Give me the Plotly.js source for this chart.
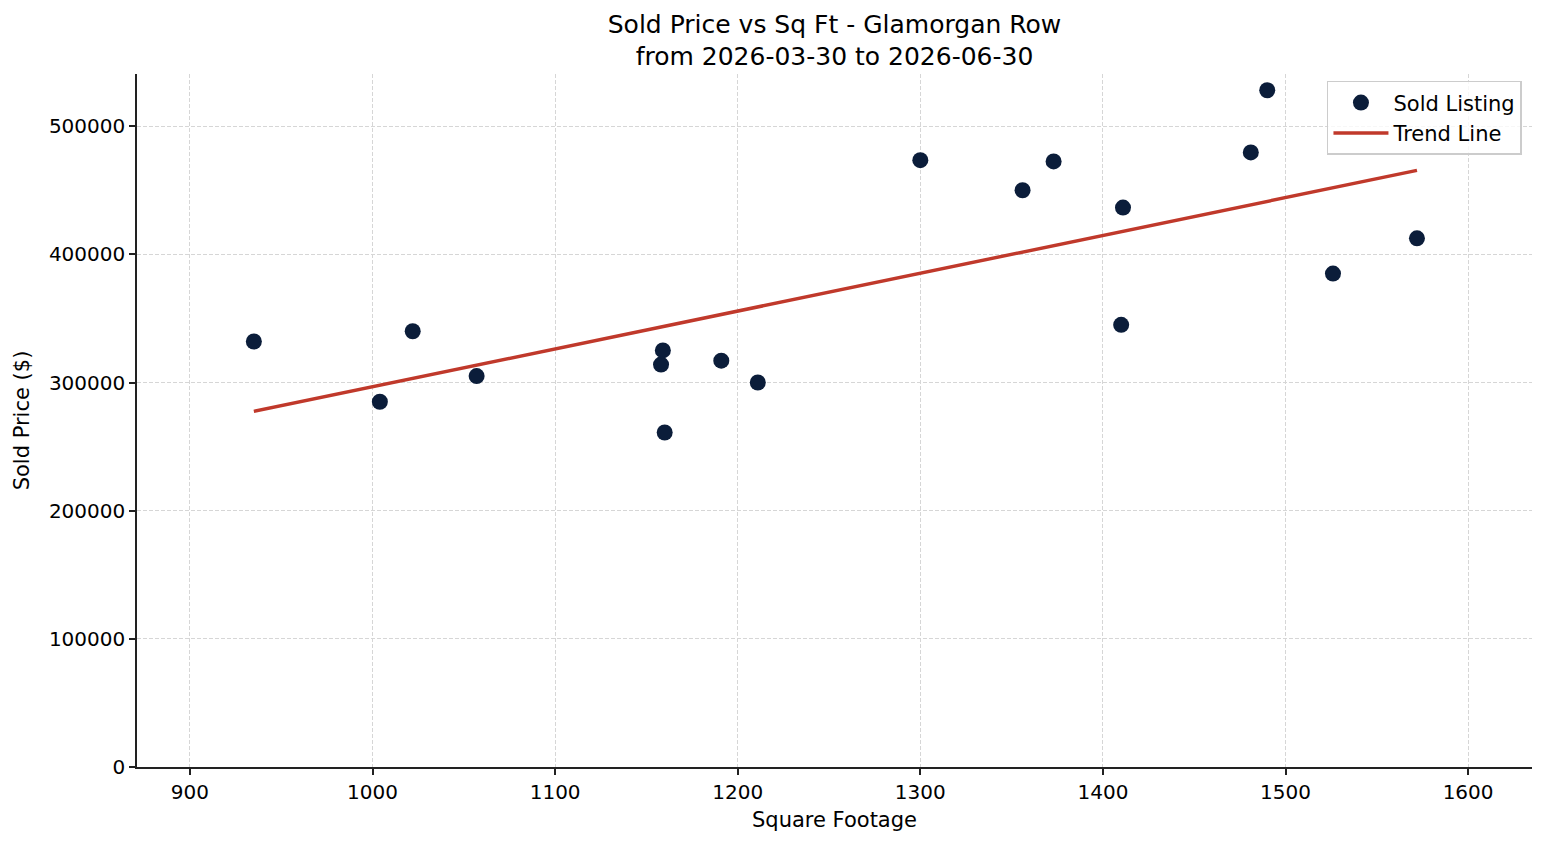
<!DOCTYPE html>
<html>
<head>
<meta charset="utf-8">
<script src="https://cdn.plot.ly/plotly-3.0.1.min.js"></script>
<style>html,body{margin:0;padding:0;background:#fff;}#chart{width:1547px;height:845px;}</style>
</head>
<body>
<div id="chart"></div>
<script>
const sqft = [935, 1004, 1022, 1057, 1158, 1159, 1160, 1191, 1211, 1300, 1356, 1373, 1411, 1410, 1481, 1490, 1526, 1572];
const soldPrice = [332000, 285000, 340000, 305000, 314000, 325000, 261000, 317000, 300000, 473500, 450000, 472500, 436500, 345000, 479500, 528000, 385000, 412500];
const trendX = [935, 1572];
const trendY = [277500, 465500];
const xTicks = [900, 1000, 1100, 1200, 1300, 1400, 1500, 1600];
const yTicks = [0, 100000, 200000, 300000, 400000, 500000];

const font = "DejaVu Sans, sans-serif";
const traces = [
  {
    x: sqft, y: soldPrice, type: 'scatter', mode: 'markers', name: 'Sold Listing',
    marker: {color: '#0b1d3a', size: 16}
  },
  {
    x: trendX, y: trendY, type: 'scatter', mode: 'lines', name: 'Trend Line',
    line: {color: '#c0392b', width: 3.5}
  }
];
const axisCommon = {
  showline: true, linecolor: '#222', linewidth: 1.5,
  ticks: 'outside', ticklen: 6, tickwidth: 1.5, tickcolor: '#222',
  showgrid: true, gridcolor: '#d6d6d6', gridwidth: 1, griddash: '4px,2px',
  zeroline: false, tickfont: {family: font, size: 20, color: '#000'}
};
const layout = {
  width: 1547, height: 845,
  margin: {l: 137, r: 15, t: 74, b: 78},
  paper_bgcolor: '#fff', plot_bgcolor: '#fff',
  font: {family: font, color: '#000'},
  title: {text: 'Sold Price vs Sq Ft - Glamorgan Row<br>from 2026-03-30 to 2026-06-30',
          font: {family: font, size: 25, color: '#000'},
          xref: 'paper', x: 0.5, xanchor: 'center',
          yref: 'container', y: 0.961, yanchor: 'top'},
  xaxis: Object.assign({}, axisCommon, {
    range: [871, 1635], tickvals: xTicks, ticktext: xTicks.map(String),
    title: {text: 'Square Footage', font: {family: font, size: 21, color: '#000'}, standoff: 10}
  }),
  yaxis: Object.assign({}, axisCommon, {
    range: [0, 540700], tickvals: yTicks, ticktext: yTicks.map(String),
    title: {text: 'Sold Price ($)', font: {family: font, size: 21, color: '#000'}, standoff: 14}
  }),
  showlegend: true,
  legend: {x: 0.9928, xanchor: 'right', y: 0.99, yanchor: 'top',
           bgcolor: 'rgba(255,255,255,0.8)', bordercolor: '#cccccc', borderwidth: 1.5,
           itemwidth: 55,
           font: {family: font, size: 21, color: '#000'}}
};
Plotly.newPlot('chart', traces, layout, {displayModeBar: false});
</script>
</body>
</html>
